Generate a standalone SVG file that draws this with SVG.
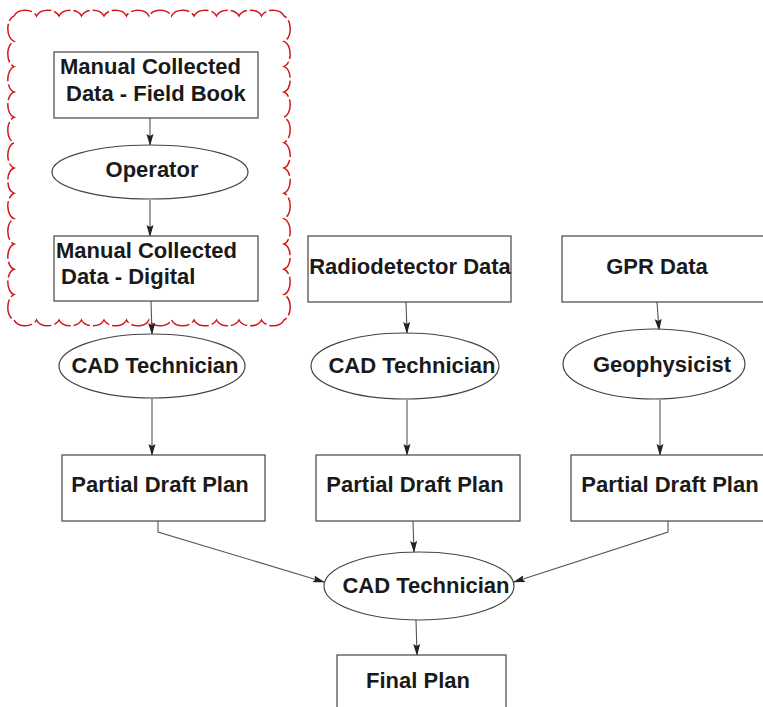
<svg xmlns="http://www.w3.org/2000/svg" width="763" height="707" viewBox="0 0 763 707">
<defs>
<marker id="arr" markerUnits="userSpaceOnUse" markerWidth="12" markerHeight="8" refX="11" refY="3.5" orient="auto">
<path d="M0,0 L12,3.5 L0,7 L2,3.5 z" fill="#222"/>
</marker>
<style>
.box{fill:#fff;stroke:#444;stroke-width:1.2}
.ell{fill:#fff;stroke:#444;stroke-width:1.2}
.t{font-family:"Liberation Sans",Arial,sans-serif;font-weight:bold;font-size:22px;fill:#1a1a1a}
.c{text-anchor:middle}
.ln{fill:none;stroke:#555;stroke-width:1.1;marker-end:url(#arr)}
.cloud{fill:none;stroke:#d01818;stroke-width:1.5;stroke-dasharray:20 3}
</style>
</defs>
<rect width="763" height="707" fill="#fff"/>
<g id="cloud">
<path class="cloud" d="M14 16
a12 9 0 0 1 22.5 0 a12 9 0 0 1 22.5 0 a12 9 0 0 1 22.5 0 a12 9 0 0 1 22.5 0 a12 9 0 0 1 22.5 0 a12 9 0 0 1 22.5 0 a12 9 0 0 1 22.5 0 a12 9 0 0 1 22.5 0 a12 9 0 0 1 22.5 0 a12 9 0 0 1 22.5 0 a12 9 0 0 1 22.5 0 a12 9 0 0 1 22.5 0
a8 13 0 0 1 0 25.33 a8 13 0 0 1 0 25.33 a8 13 0 0 1 0 25.33 a8 13 0 0 1 0 25.33 a8 13 0 0 1 0 25.33 a8 13 0 0 1 0 25.33 a8 13 0 0 1 0 25.33 a8 13 0 0 1 0 25.33 a8 13 0 0 1 0 25.33 a8 13 0 0 1 0 25.33 a8 13 0 0 1 0 25.33 a8 13 0 0 1 0 25.33
a12 9 0 0 1 -22.5 0 a12 9 0 0 1 -22.5 0 a12 9 0 0 1 -22.5 0 a12 9 0 0 1 -22.5 0 a12 9 0 0 1 -22.5 0 a12 9 0 0 1 -22.5 0 a12 9 0 0 1 -22.5 0 a12 9 0 0 1 -22.5 0 a12 9 0 0 1 -22.5 0 a12 9 0 0 1 -22.5 0 a12 9 0 0 1 -22.5 0 a12 9 0 0 1 -22.5 0
a8 13 0 0 1 0 -25.33 a8 13 0 0 1 0 -25.33 a8 13 0 0 1 0 -25.33 a8 13 0 0 1 0 -25.33 a8 13 0 0 1 0 -25.33 a8 13 0 0 1 0 -25.33 a8 13 0 0 1 0 -25.33 a8 13 0 0 1 0 -25.33 a8 13 0 0 1 0 -25.33 a8 13 0 0 1 0 -25.33 a8 13 0 0 1 0 -25.33 a8 13 0 0 1 0 -25.33 z"/>
</g>
<g id="connectors">
<path class="ln" d="M150 118 L150 145"/>
<path class="ln" d="M150 200 L150 236"/>
<path class="ln" d="M151 301 L152 334"/>
<path class="ln" d="M152 398 L152 455"/>
<path class="ln" d="M406 302 L407 333"/>
<path class="ln" d="M407 400 L407 455"/>
<path class="ln" d="M657 302 L659 330"/>
<path class="ln" d="M660 400 L660 455"/>
<path class="ln" d="M158 521 L158 532 L324 582"/>
<path class="ln" d="M413 521 L414 552"/>
<path class="ln" d="M668 521 L668 532 L514 582"/>
<path class="ln" d="M416 620 L417 655"/>
</g>
<g id="n1"><rect class="box" x="54" y="52" width="204" height="66"/>
<text class="t" x="60" y="74">Manual Collected</text><text class="t" x="66" y="101">Data - Field Book</text></g>
<g id="n2"><ellipse class="ell" cx="150" cy="172" rx="98" ry="27"/>
<text class="t c" x="152" y="177">Operator</text></g>
<g id="n3"><rect class="box" x="54" y="236" width="204" height="65"/>
<text class="t" x="56" y="258">Manual Collected</text><text class="t" x="61" y="284">Data - Digital</text></g>
<g id="n4"><ellipse class="ell" cx="152" cy="366" rx="93" ry="32"/>
<text class="t c" x="155" y="373">CAD Technician</text></g>
<g id="n5"><rect class="box" x="62" y="455" width="203" height="66"/>
<text class="t c" x="160" y="492">Partial Draft Plan</text></g>
<g id="n6"><rect class="box" x="308" y="236" width="203" height="66"/>
<text class="t c" x="410" y="274">Radiodetector Data</text></g>
<g id="n7"><ellipse class="ell" cx="405" cy="366" rx="94" ry="33"/>
<text class="t c" x="412" y="373">CAD Technician</text></g>
<g id="n8"><rect class="box" x="316" y="455" width="204" height="66"/>
<text class="t c" x="415" y="492">Partial Draft Plan</text></g>
<g id="n9"><rect class="box" x="562" y="236" width="204" height="66"/>
<text class="t c" x="657" y="274">GPR Data</text></g>
<g id="n10"><ellipse class="ell" cx="654" cy="364" rx="91" ry="35"/>
<text class="t c" x="662" y="372">Geophysicist</text></g>
<g id="n11"><rect class="box" x="571" y="455" width="200" height="66"/>
<text class="t c" x="670" y="492">Partial Draft Plan</text></g>
<g id="n12"><ellipse class="ell" cx="419" cy="586" rx="95" ry="34"/>
<text class="t c" x="426" y="593">CAD Technician</text></g>
<g id="n13"><rect class="box" x="337" y="655" width="169" height="60"/>
<text class="t c" x="418" y="688">Final Plan</text></g>
</svg>
